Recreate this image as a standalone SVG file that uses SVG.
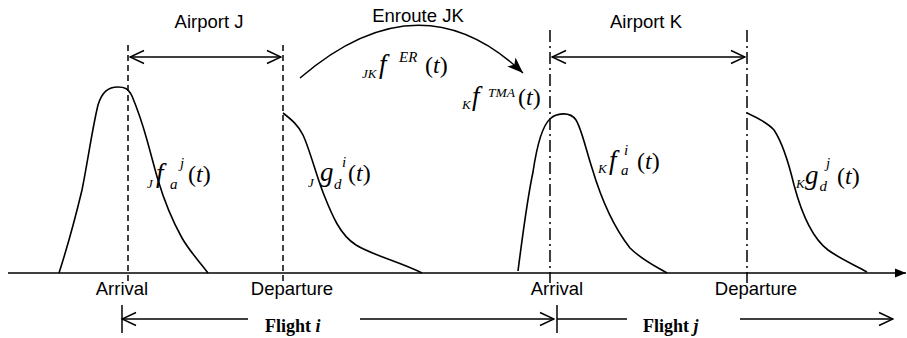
<svg xmlns="http://www.w3.org/2000/svg" width="907" height="338" viewBox="0 0 907 338">
<style>
.ln{fill:none;stroke:#000;stroke-width:1.5}
.cv{fill:none;stroke:#000;stroke-width:1.6}
.dash{fill:none;stroke:#000;stroke-width:1.5;stroke-dasharray:6 4}
.dd{fill:none;stroke:#000;stroke-width:1.5;stroke-dasharray:12 4 2 4}
.lab{font-family:"Liberation Sans",Arial,sans-serif;font-size:18.5px;fill:#000}
.m{font-family:"Liberation Serif","Times New Roman",serif;font-size:24px;fill:#000}
.mi{font-family:"Liberation Serif","Times New Roman",serif;font-size:27px;font-style:italic;fill:#000}
.s{font-family:"Liberation Serif","Times New Roman",serif;font-size:15px;font-style:italic;fill:#000}
.ss{font-family:"Liberation Serif","Times New Roman",serif;font-size:13px;font-style:italic;fill:#000}
.fl{font-family:"Liberation Serif","Times New Roman",serif;font-size:18px;font-weight:bold;fill:#000}
</style>
<defs>
<marker id="open" markerUnits="userSpaceOnUse" markerWidth="16" markerHeight="16" viewBox="0 0 16 16" refX="15" refY="8" orient="auto-start-reverse">
<path d="M1,1.5 L15,8 L1,14.5" fill="none" stroke="#000" stroke-width="1.5"/>
</marker>
<marker id="fill" markerUnits="userSpaceOnUse" markerWidth="18" markerHeight="14" viewBox="0 0 18 14" refX="16" refY="7" orient="auto">
<path d="M0,1 L16,7 L0,13 L4,7 Z" fill="#000"/>
</marker>
<marker id="axis" markerUnits="userSpaceOnUse" markerWidth="12" markerHeight="10" viewBox="0 0 12 10" refX="11" refY="5" orient="auto">
<path d="M0,0.5 L11,5 L0,9.5 Z" fill="#000"/>
</marker>
</defs>

<g id="axis-line">
<path class="ln" d="M8,273 L906,273" marker-end="url(#axis)"/>
</g>

<g id="airport-J">
<path class="dash" d="M128,45 L128,283"/>
<path class="dash" d="M283,45 L283,283"/>
<text class="lab" x="209" y="28" text-anchor="middle">Airport J</text>
<text class="lab" x="122" y="295" text-anchor="middle">Arrival</text>
<text class="lab" x="292" y="295" text-anchor="middle">Departure</text>
</g>

<g id="airport-K">
<path class="dd" d="M550,30 L550,283"/>
<path class="dd" d="M747,30 L747,283"/>
<text class="lab" x="646" y="28" text-anchor="middle">Airport K</text>
<text class="lab" x="557" y="295" text-anchor="middle">Arrival</text>
<text class="lab" x="756" y="295" text-anchor="middle">Departure</text>
</g>

<g id="enroute">
<text class="lab" x="418" y="22" text-anchor="middle">Enroute JK</text>
</g>

<g id="curve-J-arrival">
<path class="cv" d="M59,273 C68,245 76,215 82,190 C88,160 92,130 98,105 C102,92 108,87 118,87 C124,87 128,88 132,96 C137,108 142,122 147,140 C152,158 155,170 158,180 C164,200 172,220 182,238 C190,252 200,262 208,273"/>
<text class="ss" x="147" y="188">J</text>
<text class="mi" x="156" y="182">f</text>
<text class="s" x="180" y="168">j</text>
<text class="s" x="170" y="189">a</text>
<text class="m" x="188" y="182">(<tspan font-style="italic">t</tspan>)</text>
</g>

<g id="curve-J-departure">
<path class="cv" d="M283,113 C292,120 298,125 303,135 C310,150 316,175 324,195 C332,215 340,235 356,245 C372,255 400,262 422,273"/>
<text class="ss" x="308" y="187">J</text>
<text class="mi" x="320" y="181">g</text>
<text class="s" x="342" y="167">i</text>
<text class="s" x="334" y="189">d</text>
<text class="m" x="348" y="181">(<tspan font-style="italic">t</tspan>)</text>
</g>

<g id="curve-K-arrival">
<path class="cv" d="M518,271 C522,240 527,200 533,172 C537,145 542,126 550,119 C556,113 570,111 576,120 C582,130 586,150 592,168 C600,195 612,225 630,248 C642,260 655,266 667,273"/>
<text class="ss" x="598" y="173">K</text>
<text class="mi" x="609" y="169">f</text>
<text class="s" x="624" y="155">i</text>
<text class="s" x="621" y="175">a</text>
<text class="m" x="637" y="169">(<tspan font-style="italic">t</tspan>)</text>
</g>

<g id="curve-K-departure">
<path class="cv" d="M747,113 C758,118 768,123 774,130 C782,142 788,160 794,185 C802,215 812,238 828,250 C842,260 855,265 867,272"/>
<text class="ss" x="796" y="188">K</text>
<text class="mi" x="805" y="184">g</text>
<text class="s" x="826" y="168">j</text>
<text class="s" x="819.5" y="191">d</text>
<text class="m" x="837" y="184">(<tspan font-style="italic">t</tspan>)</text>
</g>

<g id="label-ER">
<text class="ss" x="362" y="78">JK</text>
<text class="mi" x="379" y="73">f</text>
<text class="s" x="399" y="62">ER</text>
<text class="m" x="425" y="73">(<tspan font-style="italic">t</tspan>)</text>
</g>

<g id="label-TMA">
<text class="ss" x="462" y="109">K</text>
<text class="mi" x="472" y="105">f</text>
<text class="s" x="488" y="97" style="font-size:13.5px">TMA</text>
<text class="m" x="518" y="105">(<tspan font-style="italic">t</tspan>)</text>
</g>

<g id="flights">
<text class="fl" x="265" y="332">Flight <tspan font-style="italic">i</tspan></text>
<text class="fl" x="643" y="332">Flight <tspan font-style="italic">j</tspan></text>
</g>

<g id="connectors">
<path class="ln" d="M130,57 L281,57" marker-start="url(#open)" marker-end="url(#open)"/>
<path class="ln" d="M552,57 L745,57" marker-start="url(#open)" marker-end="url(#open)"/>
<path class="ln" d="M300,78 Q420,-25 523,73" marker-end="url(#fill)"/>
<path class="ln" d="M122,305 L122,333"/>
<path class="ln" d="M122,319 L248,319" marker-start="url(#open)"/>
<path class="ln" d="M360,319 L554,319" marker-end="url(#open)"/>
<path class="ln" d="M557,305 L557,333"/>
<path class="ln" d="M557,319 L627,319"/>
<path class="ln" d="M740,319 L893,319" marker-end="url(#open)"/>
</g>
</svg>
